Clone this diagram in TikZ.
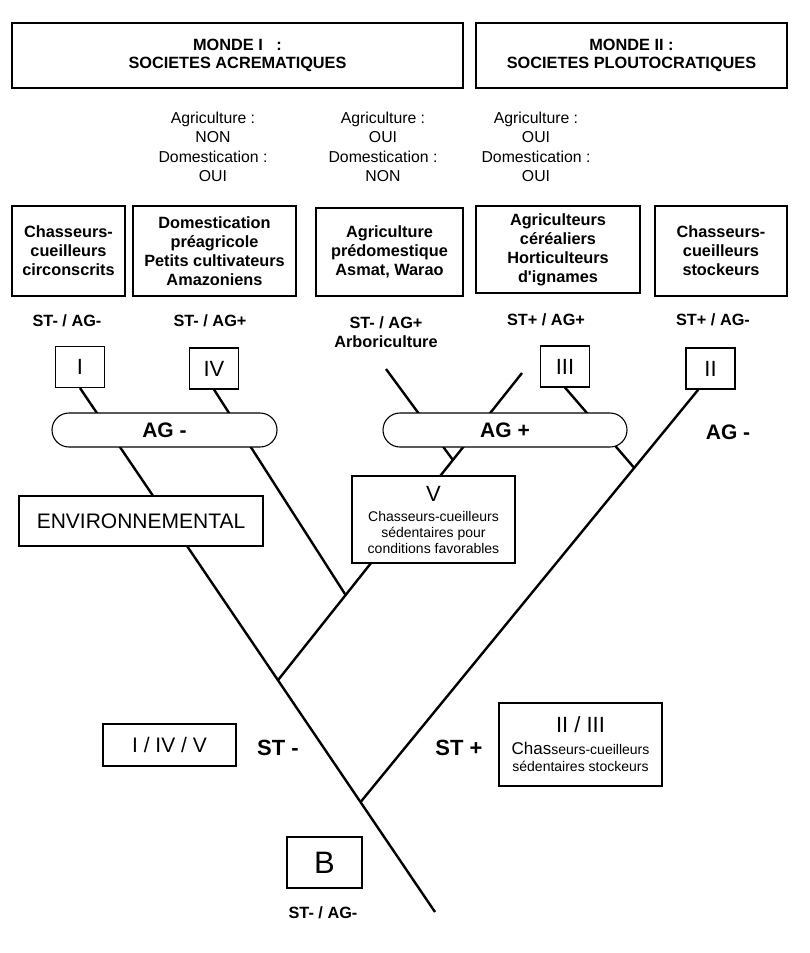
\documentclass[tikz,border=0pt]{standalone}
\usepackage{fontspec}
\setmainfont{Liberation Sans}
\usetikzlibrary{positioning, calc, backgrounds}

\tikzset{
  frame/.style={draw, line width=1.1pt, fill=white, inner sep=0pt, align=center},
  catbox/.style={frame, font=\bfseries\fontsize{16.3}{19}\selectfont},
  numbox/.style={frame, font=\fontsize{22}{24}\selectfont, minimum width=49pt, minimum height=41pt},
  pill/.style={frame, rounded corners=17pt, minimum height=34pt, font=\bfseries\fontsize{21}{24}\selectfont},
  tag/.style={font=\bfseries\fontsize{16.3}{19}\selectfont, align=center},
  branch/.style={draw, line width=2.4pt},
}

\begin{document}
\begin{tikzpicture}[x=1pt, y=-1pt]
  \useasboundingbox (0,0) rectangle (809,953);

  % les deux mondes
  \node[frame, font=\bfseries\fontsize{16.3}{18.5}\selectfont, minimum width=451pt, minimum height=65pt] (mondeA) at (237.5,55.5) {MONDE I \ \ :\\SOCIETES ACREMATIQUES};
  \node[frame, font=\bfseries\fontsize{16.3}{18.5}\selectfont, minimum width=311pt, minimum height=65pt] (mondeB) at (631.5,55.5) {MONDE II :\\SOCIETES PLOUTOCRATIQUES};

  \foreach \n/\x/\a/\d in {agA/213/NON/OUI, agB/383/OUI/NON, agC/536/OUI/OUI} {
    \node[align=center, font=\fontsize{15.8}{19.3}\selectfont] (\n) at (\x,147) {Agriculture :\\\a\\Domestication :\\\d};
  }

  % types de societes
  \foreach \n/\x/\y/\w/\h/\txt in {
      catA/68.5/251/113/90/{Chasseurs-\\cueilleurs\\circonscrits},
      catB/214.5/251/163/90/{Domestication\\préagricole\\Petits cultivateurs\\Amazoniens},
      catC/389.5/252/147/88/{Agriculture\\prédomestique\\Asmat, Warao},
      catD/558/249.5/164/87/{Agriculteurs\\céréaliers\\Horticulteurs\\d\textquotesingle ignames},
      catE/721/251/132/90/{Chasseurs-\\cueilleurs\\stockeurs}} {
    \node[catbox, minimum width=\w pt, minimum height=\h pt] (\n) at (\x,\y) {\txt};
  }

  \foreach \n/\x/\y/\txt in {stA/67/321/{ST- / AG-}, stB/210/321/{ST- / AG+},
      stC/386/332.5/{ST- / AG+\\Arboriculture}, stD/546/320/{ST+ / AG+}, stE/713/320/{ST+ / AG-}} {
    \node[tag] (\n) at (\x,\y) {\txt};
  }

  % numeros
  \node[numbox] (rI) at (80,367) {I};
  \node[numbox] (rIV) at (214,368.5) {IV};
  \node[numbox] (rIII) at (565,366.5) {III};
  \node[numbox] (rII) at (710.5,368.5) {II};

  \node[pill, minimum width=225pt] (agMoins) at (164.5,430) {AG -};
  \node[pill, minimum width=244pt] (agPlus) at (505,430) {AG +};
  \node[font=\bfseries\fontsize{21}{24}\selectfont] (agDroite) at (728,432) {AG -};

  \node[frame, font=\fontsize{21}{24}\selectfont, minimum width=244pt, minimum height=50pt] (env) at (141,521) {ENVIRONNEMENTAL};
  \node[frame, font=\fontsize{14}{16}\selectfont, minimum width=163pt, minimum height=87pt] (rV) at (433.5,519.5)
    {{\fontsize{22}{23}\selectfont V}\\[4pt]Chasseurs-cueilleurs\\sédentaires pour\\conditions favorables};

  \node[frame, font=\fontsize{21}{24}\selectfont, minimum width=133pt, minimum height=42pt] (grpA) at (169.5,745) {I / IV / V};
  \node[font=\bfseries\fontsize{22}{24}\selectfont] (stMoins) at (278,748) {ST -};
  \node[font=\bfseries\fontsize{22}{24}\selectfont] (stPlus) at (459,748) {ST +};
  \node[frame, font=\fontsize{14}{17}\selectfont, minimum width=163pt, minimum height=83pt] (grpB) at (580.5,744.5)
    {{\fontsize{22}{23}\selectfont II / III}\\[5pt]{\fontsize{17}{17}\selectfont Chas}seurs-cueilleurs\\sédentaires stockeurs};

  \node[frame, font=\fontsize{31}{34}\selectfont, minimum width=75pt, minimum height=51pt] (base) at (324.5,862.5) {B};
  \node[tag] (stBase) at (323,913) {ST- / AG-};

  % points de l'arbre
  \coordinate (root) at (435,912);
  \coordinate (topL) at (386,369);
  \coordinate (topR) at (522,373);
  \coordinate (j1) at (345.6,595);
  \coordinate (j2) at (278.1,680);
  \coordinate (j3) at (452.9,460);
  \coordinate (j4) at (634.3,468);
  \coordinate (j5) at (360.6,802);

  \begin{scope}[on background layer]
    \draw[branch] (rI.south) -- (root);
    \draw[branch] (rIV.south) -- (j1);
    \draw[branch] (topR) -- (j2);
    \draw[branch] (topL) -- (j3);
    \draw[branch] (rIII.south) -- (j4);
    \draw[branch] (rII.240) -- (j5);
  \end{scope}
\end{tikzpicture}
\end{document}
